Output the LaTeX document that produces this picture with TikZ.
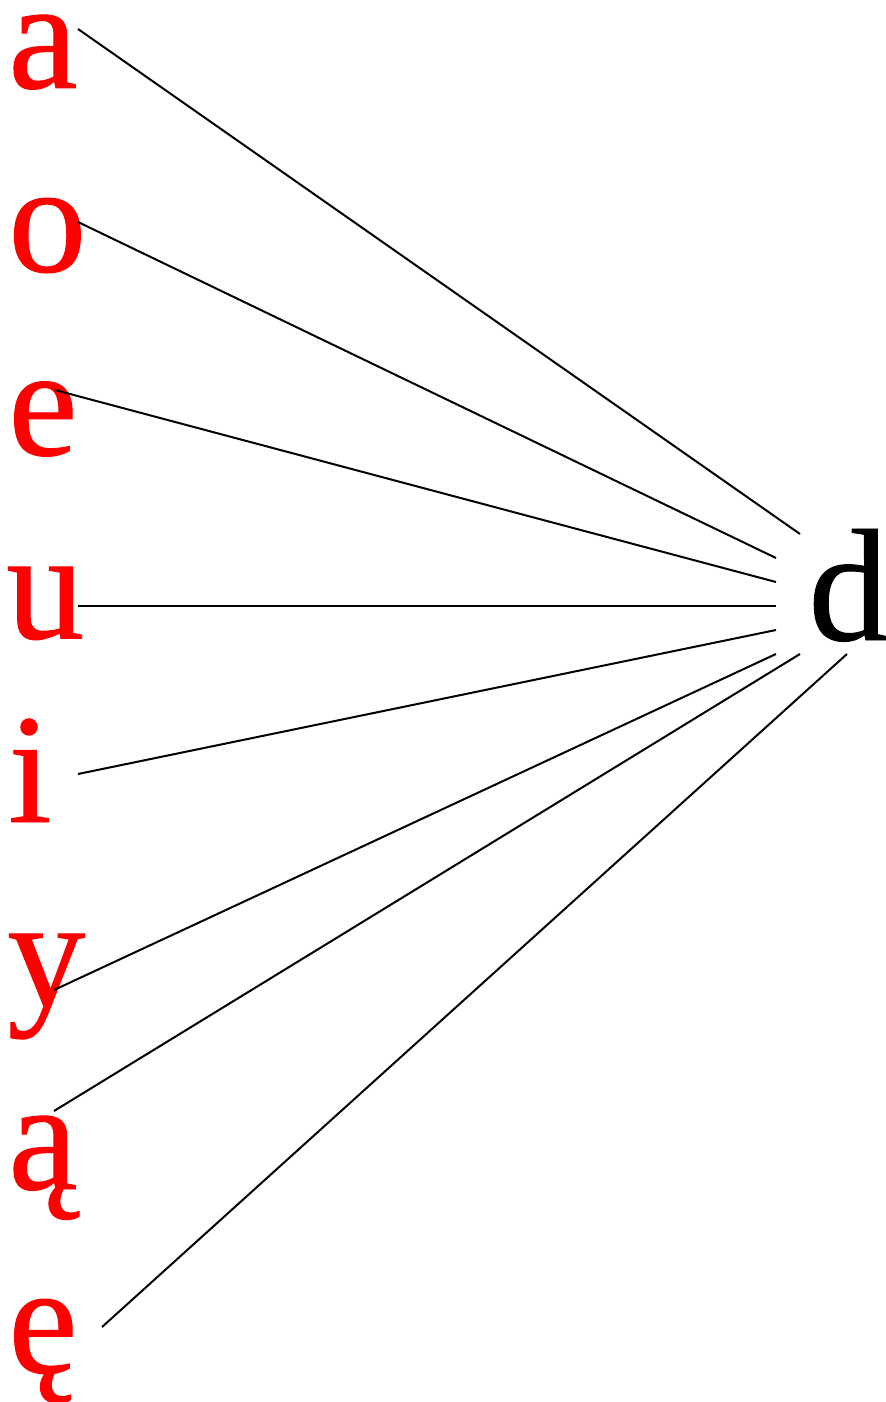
\documentclass[tikz,border=0pt]{standalone}
\usepackage{fontspec}
\setmainfont{Liberation Serif}
\newfontfamily\letterfont[FakeBold=0.6]{Liberation Serif}

\begin{document}
\begin{tikzpicture}[
    x=0.5pt, y=-0.5pt,
    vowel/.style={anchor=base west, inner sep=0pt, text=red, font=\letterfont\fontsize{78}{78}\selectfont},
    cons/.style={anchor=base west, inner sep=0pt, text=black, font=\letterfont\fontsize{80}{80}\selectfont},
    link/.style={line width=1pt}
]
\useasboundingbox (0,0) rectangle (885,1402);

% Left side: vowels
\node[vowel] (va)  at (8,88)     {a};
\node[vowel] (vo)  at (8,271.5)  {o};
\node[vowel] (ve)  at (8,455)    {e};
\node[vowel] (vu)  at (6,638.5)  {u};
\node[vowel] (vi)  at (8,822)    {i};
\node[vowel] (vy)  at (7,1005.5) {y};
\node[vowel] (van) at (8,1189)   {ą};
\node[vowel] (ven) at (8,1372.5) {ę};

% Right side: consonant
\node[cons] (d) at (808,640) {d};

% Line ends at the vowels
\coordinate (sa)  at (78,29);
\coordinate (so)  at (78,222);
\coordinate (se)  at (55,390);
\coordinate (su)  at (78,606);
\coordinate (si)  at (78,774);
\coordinate (sy)  at (54,990);
\coordinate (san) at (54,1111);
\coordinate (sen) at (102,1327);

% Line ends at d
\coordinate (da)  at (800,534);
\coordinate (do)  at (776,558);
\coordinate (de)  at (776,582);
\coordinate (du)  at (776,606);
\coordinate (di)  at (776,630);
\coordinate (dy)  at (776,654);
\coordinate (dan) at (800,654);
\coordinate (den) at (847,654);

% Edges from vowels to d
\draw[link] (sa) -- (da);
\draw[link] (so) -- (do);
\draw[link] (se) -- (de);
\draw[link] (su) -- (du);
\draw[link] (si) -- (di);
\draw[link] (sy) -- (dy);
\draw[link] (san) -- (dan);
\draw[link] (sen) -- (den);

\end{tikzpicture}
\end{document}
